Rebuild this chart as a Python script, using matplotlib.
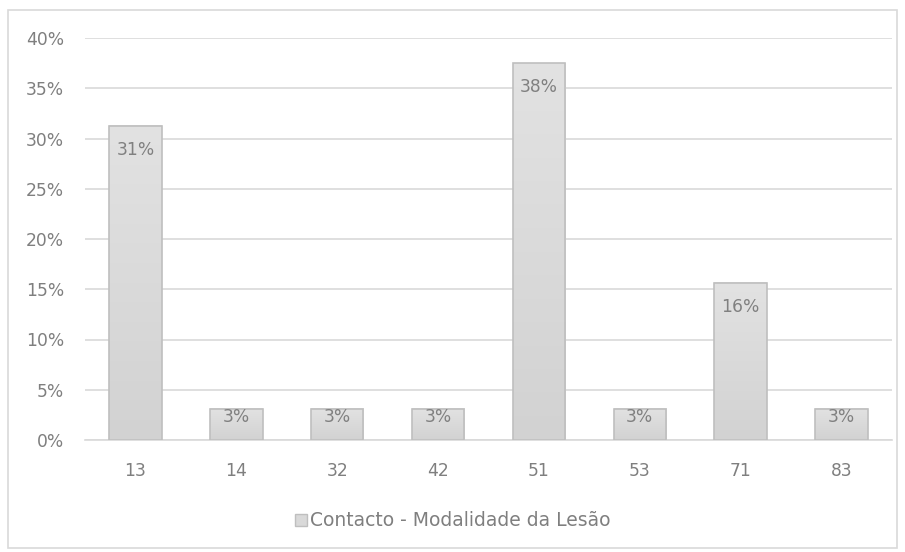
import matplotlib
matplotlib.use("Agg")
import matplotlib.pyplot as plt
import numpy as np
from matplotlib.patches import Rectangle
from matplotlib.ticker import FuncFormatter, MultipleLocator

categories = ["13", "14", "32", "42", "51", "53", "71", "83"]
values = [31.25, 3.125, 3.125, 3.125, 37.5, 3.125, 15.625, 3.125]
labels = ["31%", "3%", "3%", "3%", "38%", "3%", "16%", "3%"]
series_name = "Contacto - Modalidade da Lesão"

plt.rcParams["font.family"] = ["DejaVu Sans"]
text_color = "#7f7f7f"
grid_color = "#d9d9d9"
fs = 12.3

fig = plt.figure(figsize=(9.05, 5.52), dpi=100)
fig.patches.append(Rectangle((8 / 905, 4 / 552), 889 / 905, 538 / 552,
                             transform=fig.transFigure, fill=False,
                             edgecolor="#d9d9d9", linewidth=1.2))

ax = fig.add_axes([85 / 905, 1 - 440 / 552, 807 / 905, 402 / 552])
x = np.arange(len(categories))
ax.set_xlim(-0.5, len(categories) - 0.5)
ax.set_ylim(0, 40)
bars = ax.bar(x, values, width=0.52, facecolor="none", edgecolor="#bfbfbf",
              linewidth=1.2, zorder=3)

# vertical gradient fill for each bar
grad = np.linspace(0, 1, 256).reshape(-1, 1)
cmap = matplotlib.colors.LinearSegmentedColormap.from_list("g", ["#d2d2d2", "#e2e2e2"])
for b in bars:
    x0, y0 = b.get_x(), b.get_y()
    w, h = b.get_width(), b.get_height()
    ax.imshow(grad, extent=(x0, x0 + w, y0, y0 + h), origin="lower",
              cmap=cmap, aspect="auto", zorder=2)

# value labels inside the bar end; short bars keep the label flush with the top
for b, lab in zip(bars, labels):
    top_px = ax.transData.transform((0, b.get_height()))[1]
    base_px = ax.transData.transform((0, 0))[1]
    dy = -10.5 if (top_px - base_px) > 45 else 0.5
    ax.annotate(lab, (b.get_x() + b.get_width() / 2, b.get_height()),
                xytext=(0, dy), textcoords="offset points",
                ha="center", va="top", fontsize=fs, color="#808080", zorder=4)

ax.yaxis.set_major_locator(MultipleLocator(5))
ax.yaxis.set_major_formatter(FuncFormatter(lambda v, p: f"{v:.0f}%"))
ax.set_xticks(x)
ax.set_xticklabels(categories)
ax.tick_params(axis="both", length=0, labelsize=fs, labelcolor=text_color)
ax.tick_params(axis="y", pad=15)
ax.tick_params(axis="x", pad=16)
ax.grid(axis="y", color=grid_color, linewidth=1.2, zorder=0)
ax.set_axisbelow(True)
for s in ["top", "right", "left"]:
    ax.spines[s].set_visible(False)
ax.spines["bottom"].set_color(grid_color)
ax.spines["bottom"].set_linewidth(1.2)

handle = Rectangle((0, 0), 1, 1, facecolor="#d9d9d9", edgecolor="#bfbfbf")
fig.legend([handle], [series_name], loc="center", bbox_to_anchor=(0.5, 1 - 521 / 552),
           frameon=False, fontsize=13.5, labelcolor=text_color, handlelength=0.65,
           handleheight=0.65, handletextpad=0.15)

fig.savefig("out.png", dpi=100, facecolor="white")
